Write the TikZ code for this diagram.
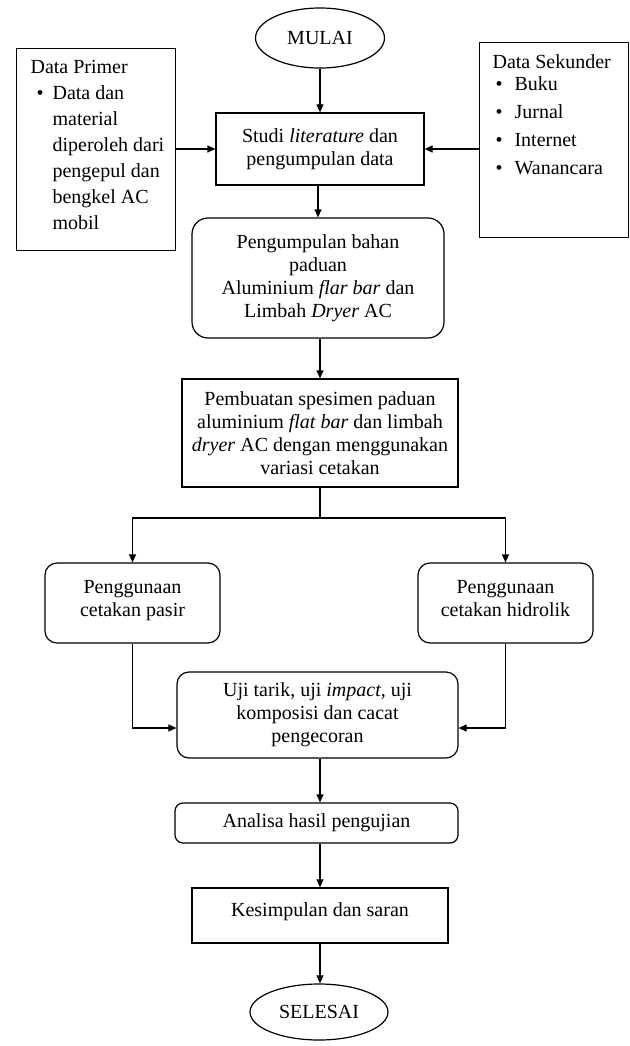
\documentclass[tikz,border=0pt]{standalone}
\usepackage{fontspec}
\setmainfont{Liberation Serif}
\usetikzlibrary{arrows.meta,shapes.geometric}
\begin{document}
\begin{tikzpicture}[x=1pt,y=-1pt,
  every node/.style={font=\fontsize{20}{23}\selectfont},
  line/.style={line width=1.2pt},
  arr/.style={line width=1.2pt,-{Triangle[length=8pt,width=7pt]}},
  box/.style={draw,line width=1.2pt,inner sep=0pt,align=center},
  rbox/.style={box,rounded corners=12pt},
  oval/.style={draw,ellipse,line width=1.2pt,inner sep=0pt}]
\useasboundingbox (0,0) rectangle (629,1046);

\node[oval,minimum width=129pt,minimum height=60pt] (mulai) at (320,38) {MULAI};
\node[box,minimum width=208pt,minimum height=72pt] (studi) at (320,149)
  {Studi \textit{literature} dan\\pengumpulan data};
\node[draw,line width=1.2pt,inner sep=0pt,anchor=north west] (primer) at (16,48)
  {\parbox[c][202pt][t]{159pt}{\fontsize{20}{26}\selectfont\vspace*{7pt}\hspace*{14pt}%
   \begin{tabular}[t]{@{}p{22pt}@{}l@{}}
   \multicolumn{2}{@{}l@{}}{Data Primer}\\
   \hspace*{6pt}\textbullet & Data dan\\
   & material\\
   & diperoleh dari\\
   & pengepul dan\\
   & bengkel AC\\
   & mobil
   \end{tabular}}};
\node[draw,line width=1.2pt,inner sep=0pt,anchor=north west] (sekunder) at (479,42)
  {\parbox[c][195pt][t]{149pt}{\fontsize{20}{22}\selectfont\vspace*{10.6pt}\hspace*{13pt}%
   \begin{tabular}[t]{@{}p{22pt}@{}l@{}}
   \multicolumn{2}{@{}l@{}}{Data Sekunder}\\
   \hspace*{3pt}\textbullet & Buku\\[6pt]
   \hspace*{3pt}\textbullet & Jurnal\\[6pt]
   \hspace*{3pt}\textbullet & Internet\\[6pt]
   \hspace*{3pt}\textbullet & Wanancara
   \end{tabular}}};
\node[rbox,rounded corners=16pt,minimum width=252pt,minimum height=120pt] (kumpul) at (318,278)
  {Pengumpulan bahan\\paduan\\Aluminium \textit{flar bar} dan\\Limbah \textit{Dryer} AC};
\node[box,minimum width=276pt,minimum height=108pt] (buat) at (320,433)
  {Pembuatan spesimen paduan\\aluminium \textit{flat bar} dan limbah\\\textit{dryer} AC dengan menggunakan\\variasi cetakan};
\coordinate (split) at (320,518);
\node[rbox,minimum width=175pt,minimum height=80pt] (pasir) at (132.5,603)
  {Penggunaan\\cetakan pasir\\[-14pt]\mbox{}};
\node[rbox,minimum width=175pt,minimum height=80pt] (hidro) at (505.5,603)
  {Penggunaan\\cetakan hidrolik\\[-14pt]\mbox{}};
\node[rbox,minimum width=281pt,minimum height=86pt] (uji) at (317.5,715)
  {Uji tarik, uji \textit{impact,} uji\\komposisi dan cacat\\pengecoran};
\node[rbox,rounded corners=8pt,minimum width=283pt,minimum height=40pt] (analisa) at (316.5,823)
  {Analisa hasil pengujian};
\node[box,minimum width=256pt,minimum height=55pt] (simpul) at (320,915.5)
  {Kesimpulan dan saran\\[-12pt]\mbox{}};
\node[oval,minimum width=138pt,minimum height=56pt] (selesai) at (319,1012) {SELESAI};

\draw[arr] (mulai) -- (mulai |- studi.north);
\draw[arr] (primer.east |- studi.west) -- (studi.west);
\draw[arr] (sekunder.west |- studi.east) -- (studi.east);
\draw[arr] (studi.south -| kumpul) -- (kumpul);
\draw[arr] (kumpul.south -| buat) -- (buat);
\draw[line] (buat) -- (split);
\draw[arr] (split) -| (pasir);
\draw[arr] (split) -| (hidro);
\draw[arr] (pasir) |- ([yshift=-13pt]uji.west);
\draw[arr] (hidro) |- ([yshift=-13pt]uji.east);
\draw[arr] (uji.south -| simpul) -- (simpul.north |- analisa.north);
\draw[arr] (simpul.north |- analisa.south) -- (simpul);
\draw[arr] (simpul) -- (simpul.south |- selesai.north);
\end{tikzpicture}
\end{document}
